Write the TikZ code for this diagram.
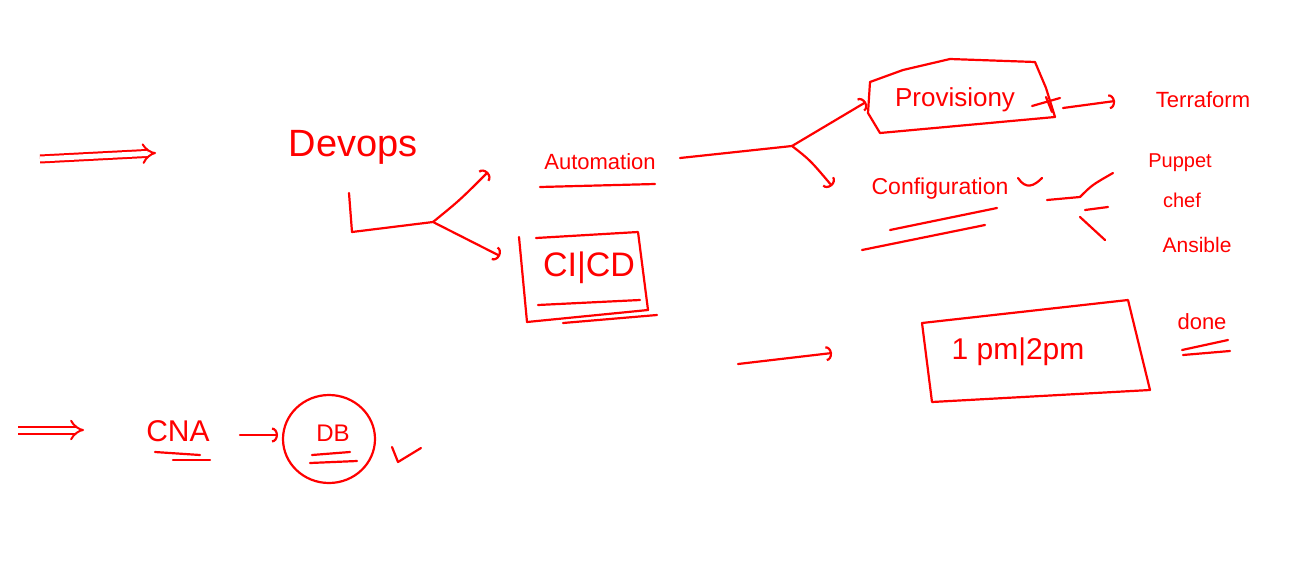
\documentclass[tikz,border=0pt]{standalone}
\usepackage{fontspec}
\setmainfont{Liberation Sans}
\usetikzlibrary{arrows.meta}
\definecolor{ink}{RGB}{255,0,0}
\begin{document}
\begin{tikzpicture}[x=1pt,y=-1pt,
  pen/.style={draw=ink,line width=2.2pt,line cap=round,line join=round},
  arr/.style={pen,-{Arc Barb[length=6pt,width=15pt]}},
  dbl/.style={draw=ink,line width=2pt,double=white,double distance=5pt,-{Implies[length=6pt]}},
  lbl/.style={text=ink,inner sep=1pt},
  fs/.style={font=\fontsize{#1}{#1}\selectfont}
]
\fill[white] (0,0) rectangle (1297,570);
\useasboundingbox (0,0) rectangle (1297,570);

% top-left double arrow
\coordinate (da1s) at (40,159);
\coordinate (da1e) at (156,153);
\draw[dbl] (da1s) -- (da1e);

% Devops
\node[lbl,fs=38] (devops) at (353,147) {Devops};
\coordinate (dv1) at (349,193);
\coordinate (dv2) at (352,232);
\coordinate (fork1) at (433,222);
\coordinate (toauto) at (488,172);
\coordinate (tocicd) at (500,256);
\draw[pen] (dv1) -- (dv2) -- (fork1);
\draw[arr] (fork1) .. controls (460,200) .. (toauto);
\draw[arr] (fork1) -- (tocicd);

% Automation
\node[lbl,fs=22] (auto) at (600,162) {Automation};
\coordinate (au1) at (540,187);
\coordinate (au2) at (655,184);
\draw[pen] (au1) -- (au2);
\coordinate (ao) at (680,158);
\coordinate (fork2) at (792,146);
\coordinate (toprov) at (866,102);
\coordinate (toconf) at (832,186);
\draw[pen] (ao) -- (fork2);
\draw[arr] (fork2) -- (toprov);
\draw[arr] (fork2) .. controls (810,160) .. (toconf);

% CI|CD box
\node[lbl,fs=34] (cicd) at (589,268) {CI|CD};
\draw[pen] (536,238) -- (638,232) -- (648,310) -- (527,322) -- (519,237);
\draw[pen] (538,305) -- (640,300);
\draw[pen] (563,323) -- (657,315);

% Provisioning
\node[lbl,fs=26] (prov) at (955,100) {Provisiony};
\draw[pen] (870,82) -- (903,70) -- (950,59) -- (1035,62) -- (1046,88) -- (1055,117) -- (880,133) -- (868,113) -- cycle;
\draw[pen] (1032,106) -- (1060,98);
\draw[pen] (1046,97) -- (1052,112);
\coordinate (pr1) at (1063,108);
\coordinate (pr2) at (1115,101);
\draw[arr] (pr1) -- (pr2);
\node[lbl,fs=22] (terra) at (1203,100) {Terraform};

% Configuration
\node[lbl,fs=23] (conf) at (940,189) {Configuration};
\draw[pen] (1018,178) .. controls (1026,190) and (1034,186) .. (1042,178);
\draw[pen] (890,230) -- (997,208);
\draw[pen] (862,250) -- (985,225);
\coordinate (c1) at (1047,200);
\coordinate (c2) at (1080,197);
\coordinate (c3) at (1113,173);
\coordinate (c4) at (1085,210);
\coordinate (c5) at (1108,207);
\coordinate (c6) at (1080,217);
\coordinate (c7) at (1105,240);
\draw[pen] (c1) -- (c2);
\draw[pen] (c2) .. controls (1092,185) .. (c3);
\draw[pen] (c4) -- (c5);
\draw[pen] (c6) -- (c7);
\node[lbl,fs=20] (puppet) at (1180,163) {Puppet};
\node[lbl,fs=20] (chef) at (1182,200) {chef};
\node[lbl,fs=21] (ansible) at (1197,245) {Ansible};

% time box
\coordinate (ta1) at (738,364);
\coordinate (ta2) at (832,353);
\draw[arr] (ta1) -- (ta2);
\node[lbl,fs=30] (time) at (1018,352) {1 pm|2pm};
\draw[pen] (922,323) -- (1128,300) -- (1150,390) -- (932,402) -- cycle;
\node[lbl,fs=22] (done) at (1202,322) {done};
\draw[pen] (1182,350) -- (1228,340);
\draw[pen] (1183,355) -- (1230,351);

% bottom row
\coordinate (da2s) at (18,430);
\coordinate (da2e) at (84,430);
\draw[dbl] (da2s) -- (da2e);
\node[lbl,fs=30] (cna) at (178,431) {CNA};
\draw[pen] (155,452) -- (200,455);
\draw[pen] (173,460) -- (210,460);
\node[lbl,fs=24] (db) at (333,433) {DB};
\draw[pen] (329,439) ellipse [x radius=46, y radius=44];
\coordinate (ca1) at (240,435);
\coordinate (ca2) at (278,435);
\draw[arr] (ca1) -- (ca2);
\draw[pen] (312,455) -- (350,452);
\draw[pen] (310,463) -- (357,461);
\coordinate (k1) at (392,447);
\coordinate (k2) at (398,462);
\coordinate (k3) at (421,448);
\draw[pen] (k1) -- (k2) -- (k3);
\end{tikzpicture}
\end{document}
